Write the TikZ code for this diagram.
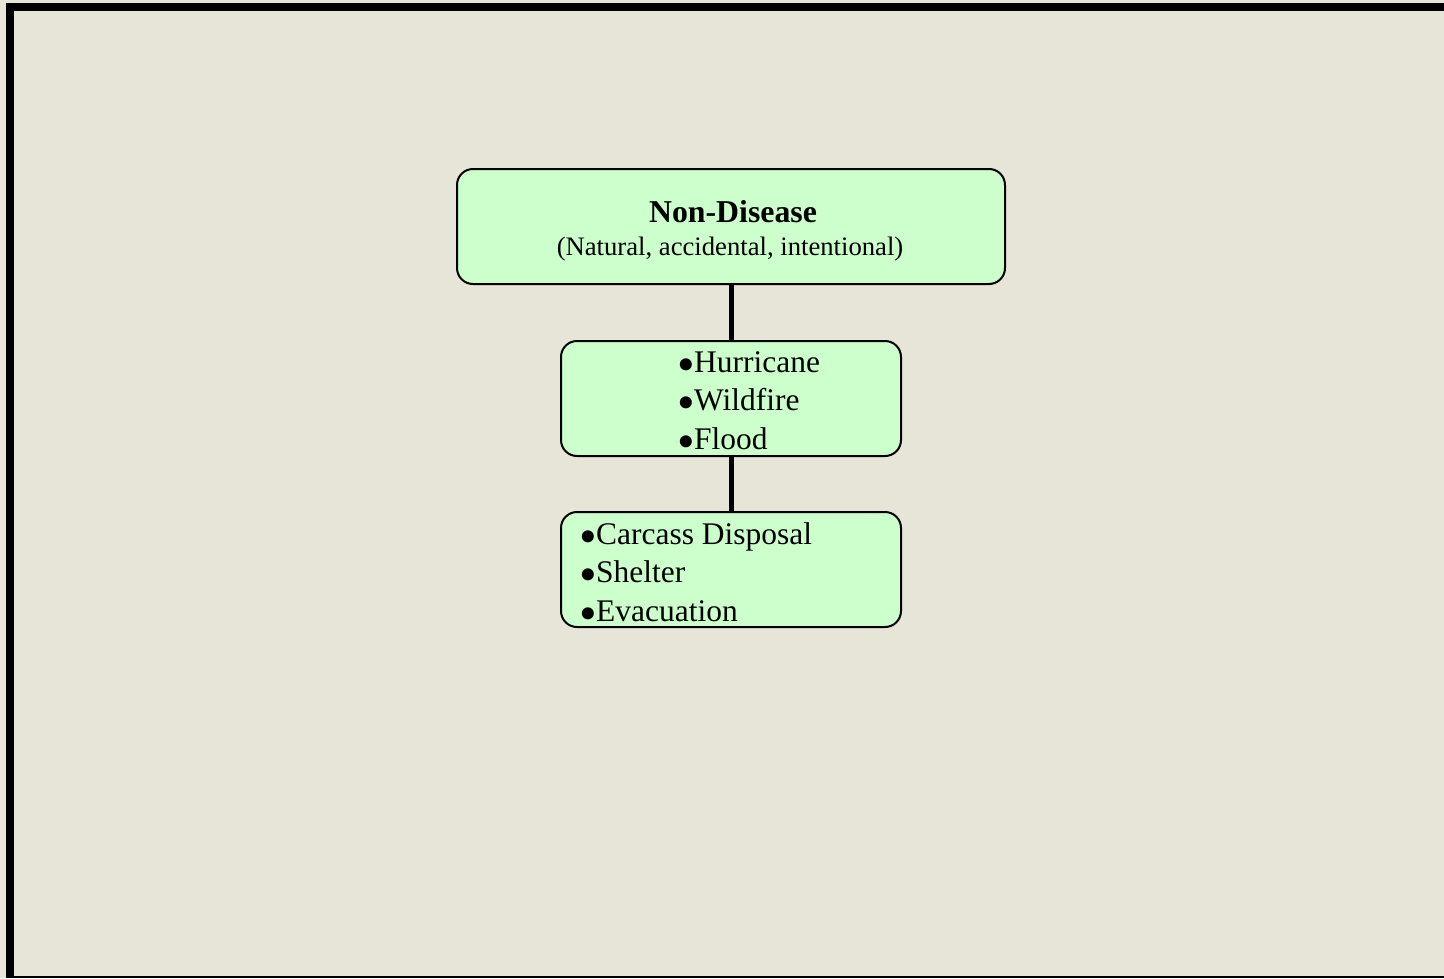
\documentclass[tikz,border=0pt]{standalone}
\usepackage{fontspec}
\setmainfont{Liberation Serif}
\definecolor{bg}{RGB}{231,228,216}
\definecolor{boxfill}{RGB}{204,255,204}
\newcommand\bul{\makebox[0.38em][l]{\hspace{-0.15em}\smash{\raisebox{-0.30em}{\scalebox{1.6}{•}}}}}
\begin{document}
\begin{tikzpicture}[x=0.75pt,y=-0.75pt,
  box/.style={draw=black, line width=1.5pt, fill=boxfill, rounded corners=12pt, inner sep=0pt, anchor=north west},
  bigbox/.style={box, minimum width=411pt, minimum height=86.25pt},
  smallbox/.style={box, minimum width=255pt, minimum height=86.25pt},
  txt/.style={anchor=base west, inner sep=0pt, font=\fontsize{23.6pt}{28pt}\selectfont},
  conn/.style={line width=3.75pt}]
\fill[bg] (0,0) rectangle (1444,978);
\useasboundingbox (0,0) rectangle (1444,978);
\fill[black] (6,3) rectangle (14,978);
\fill[black] (6,3) rectangle (1444,11);
\fill[black] (14,976) rectangle (1444,978);

\node[bigbox] (top) at (456,168) {};
\node[smallbox] (mid) at (560,340) {};
\node[smallbox] (bot) at (560,511) {};

\draw[conn] (top.south) -- (mid.north);
\draw[conn] (mid.south) -- (bot.north);

\node[anchor=base, inner sep=0pt, font=\fontsize{23.85pt}{28pt}\selectfont\bfseries] (title) at (733,222) {Non-Disease};
\node[anchor=base, inner sep=0pt, font=\fontsize{20pt}{24pt}\selectfont] (sub) at (730,255) {(Natural, accidental, intentional)};

\node[txt] (h1) at (682,372) {\bul Hurricane};
\node[txt] (h2) at (682,410.5) {\bul Wildfire};
\node[txt] (h3) at (682,449) {\bul Flood};

\node[txt] (c1) at (584,544) {\bul Carcass Disposal};
\node[txt] (c2) at (584,582.5) {\bul Shelter};
\node[txt] (c3) at (584,621) {\bul Evacuation};
\end{tikzpicture}
\end{document}
